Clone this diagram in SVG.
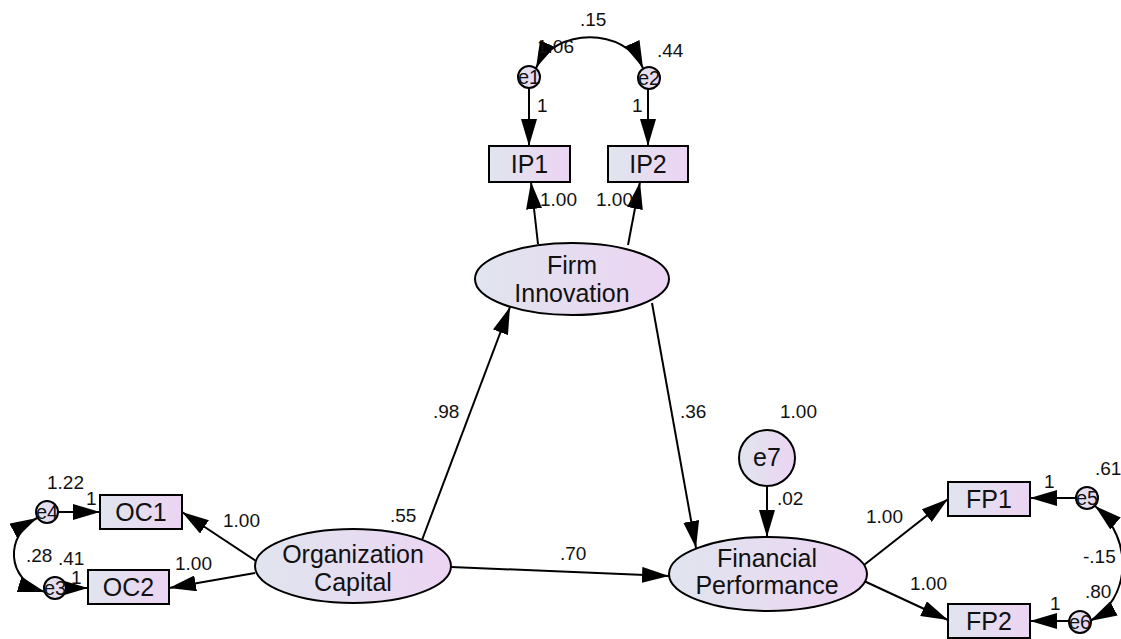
<svg xmlns="http://www.w3.org/2000/svg" width="1121" height="639" viewBox="0 0 1121 639">
  <style>
    text { font-family: "Liberation Sans", Arial, sans-serif; fill: #111; }
    .node { fill: url(#shade); stroke: #000; stroke-width: 2; }
    .lbl { font-size: 25px; text-anchor: middle; }
    .err { font-size: 20px; text-anchor: middle; }
    .val { font-size: 19px; }
    .edge { fill: none; stroke: #000; stroke-width: 2; }
    .one-way { marker-end: url(#head); }
    .two-way { marker-start: url(#head); marker-end: url(#head); }
  </style>
  <defs>
    <linearGradient id="shade" x1="0" y1="0" x2="1" y2="0">
      <stop offset="0" stop-color="#e0e5ee"/>
      <stop offset="1" stop-color="#ecd4f3"/>
    </linearGradient>
    <marker id="head" markerUnits="userSpaceOnUse" markerWidth="28" markerHeight="16" refX="27" refY="8" orient="auto-start-reverse">
      <path d="M0,0 L27,8 L0,16 Z" fill="#000"/>
    </marker>
  </defs>
  <rect width="1121" height="639" fill="#fff"/>

  <!-- paths and covariances -->
  <g id="connectors">
    <line class="edge one-way" x1="529" y1="88" x2="529" y2="146"/>
    <line class="edge one-way" x1="648" y1="89" x2="648" y2="146"/>
    <path class="edge two-way" d="M536,68 C555,27 625,27 643,68"/>
    <line class="edge one-way" x1="538" y1="244" x2="531" y2="182"/>
    <line class="edge one-way" x1="628" y1="245" x2="640" y2="182"/>
    <line class="edge one-way" x1="422" y1="540" x2="510" y2="307"/>
    <line class="edge one-way" x1="652" y1="303" x2="696" y2="548"/>
    <line class="edge one-way" x1="451" y1="567" x2="669" y2="576"/>
    <line class="edge one-way" x1="767" y1="487" x2="767" y2="537"/>
    <line class="edge one-way" x1="256" y1="561" x2="182" y2="512"/>
    <line class="edge one-way" x1="255" y1="573" x2="169" y2="588"/>
    <line class="edge one-way" x1="58" y1="512" x2="100" y2="512"/>
    <line class="edge one-way" x1="66" y1="588" x2="88" y2="588"/>
    <path class="edge two-way" d="M37,518 C5,535 5,580 45,592"/>
    <line class="edge one-way" x1="864" y1="565" x2="948" y2="499"/>
    <line class="edge one-way" x1="864" y1="581" x2="948" y2="620"/>
    <line class="edge one-way" x1="1076" y1="498" x2="1030" y2="498"/>
    <line class="edge one-way" x1="1069" y1="621" x2="1030" y2="621"/>
    <path class="edge two-way" d="M1095,506 C1135,540 1130,600 1090,621"/>
  </g>

  <!-- latent variables -->
  <g id="firm-innovation">
    <ellipse class="node" cx="572" cy="279" rx="97" ry="36"/>
    <text class="lbl" x="572" y="274">Firm</text>
    <text class="lbl" x="572" y="302">Innovation</text>
  </g>
  <g id="organization-capital">
    <ellipse class="node" cx="353" cy="566" rx="98" ry="37"/>
    <text class="lbl" x="353" y="563">Organization</text>
    <text class="lbl" x="353" y="591">Capital</text>
  </g>
  <g id="financial-performance">
    <ellipse class="node" cx="768" cy="574" rx="99" ry="37"/>
    <text class="lbl" x="767" y="567">Financial</text>
    <text class="lbl" x="767" y="594">Performance</text>
  </g>

  <!-- observed indicators -->
  <g id="IP1"><rect class="node" x="489" y="146" width="81" height="36"/><text class="lbl" x="529.5" y="173">IP1</text></g>
  <g id="IP2"><rect class="node" x="608" y="146" width="80" height="36"/><text class="lbl" x="648" y="173">IP2</text></g>
  <g id="OC1"><rect class="node" x="100" y="495" width="82" height="34"/><text class="lbl" x="141" y="521">OC1</text></g>
  <g id="OC2"><rect class="node" x="88" y="570" width="81" height="34"/><text class="lbl" x="128.5" y="596">OC2</text></g>
  <g id="FP1"><rect class="node" x="948" y="482" width="82" height="34"/><text class="lbl" x="989" y="508">FP1</text></g>
  <g id="FP2"><rect class="node" x="948" y="604" width="82" height="34"/><text class="lbl" x="989" y="630">FP2</text></g>

  <!-- error terms -->
  <g id="e1"><circle class="node" cx="529" cy="77" r="11"/><text class="err" x="529" y="84">e1</text></g>
  <g id="e2"><circle class="node" cx="649" cy="78" r="11"/><text class="err" x="649" y="85">e2</text></g>
  <g id="e3"><circle class="node" cx="55" cy="588" r="11"/><text class="err" x="55" y="595">e3</text></g>
  <g id="e4"><circle class="node" cx="47" cy="512" r="11"/><text class="err" x="47" y="519">e4</text></g>
  <g id="e5"><circle class="node" cx="1087" cy="498" r="11"/><text class="err" x="1087" y="505">e5</text></g>
  <g id="e6"><circle class="node" cx="1080" cy="622" r="11"/><text class="err" x="1080" y="629">e6</text></g>
  <g id="e7"><circle class="node" cx="767" cy="458" r="28"/><text class="lbl" x="767" y="466">e7</text></g>

  <!-- estimates -->
  <g id="estimates">
    <text class="val" x="580" y="26">.15</text>
    <text class="val" x="537" y="53">1.06</text>
    <text class="val" x="657" y="57">.44</text>
    <text class="val" x="537" y="112">1</text>
    <text class="val" x="632" y="112">1</text>
    <text class="val" x="540" y="206">1.00</text>
    <text class="val" x="596" y="206">1.00</text>
    <text class="val" x="47" y="489">1.22</text>
    <text class="val" x="86" y="505">1</text>
    <text class="val" x="26" y="562">.28</text>
    <text class="val" x="58" y="565">.41</text>
    <text class="val" x="71" y="584">1</text>
    <text class="val" x="223" y="527">1.00</text>
    <text class="val" x="175" y="570">1.00</text>
    <text class="val" x="390" y="522">.55</text>
    <text class="val" x="433" y="418">.98</text>
    <text class="val" x="680" y="418">.36</text>
    <text class="val" x="560" y="560">.70</text>
    <text class="val" x="780" y="418">1.00</text>
    <text class="val" x="777" y="505">.02</text>
    <text class="val" x="866" y="523">1.00</text>
    <text class="val" x="910" y="590">1.00</text>
    <text class="val" x="1095" y="475">.61</text>
    <text class="val" x="1044" y="488">1</text>
    <text class="val" x="1083" y="563">-.15</text>
    <text class="val" x="1085" y="598">.80</text>
    <text class="val" x="1050" y="610">1</text>
  </g>
</svg>
